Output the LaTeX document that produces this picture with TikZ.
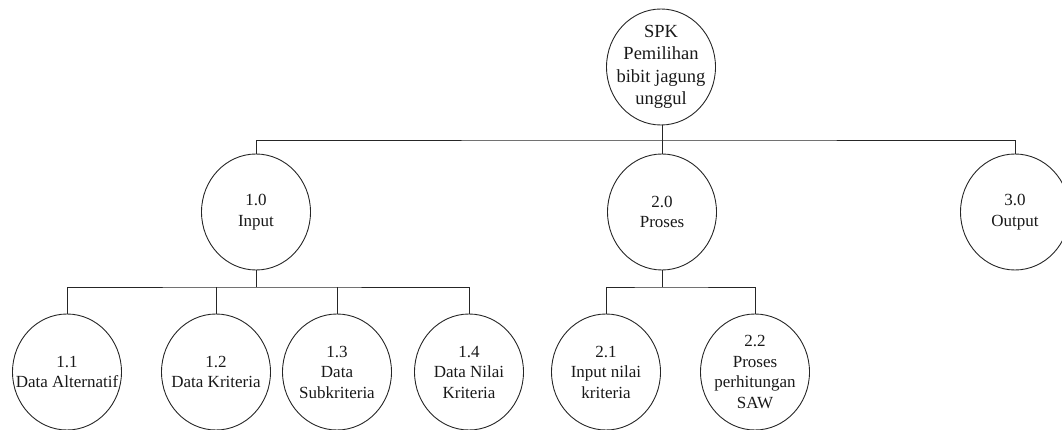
\documentclass[tikz,border=0pt]{standalone}
\usepackage{fontspec}
\setmainfont{Liberation Serif}
\usetikzlibrary{shapes.geometric}
\begin{document}
\begin{tikzpicture}[x=1pt,y=-1pt,
  bubble/.style={ellipse, draw=black!85, line width=0.9pt,
    minimum width=109pt, minimum height=116pt, inner sep=0pt},
  txt/.style={align=center, inner sep=0pt, text=black!90,
    font=\fontsize{17}{20.5}\selectfont},
  bigtxt/.style={txt, font=\fontsize{18.5}{22.5}\selectfont},
  wire/.style={draw=black!85, line width=0.9pt}]
\useasboundingbox (0,0) rectangle (1062,430);
\clip (0,0) rectangle (1062,430);

% root process
\node[bubble] (spk) at (661,67) {};
\node[bigtxt] (spk-t) at (spk.center) {SPK\\Pemilihan\\bibit jagung\\unggul};

% first level
\node[bubble] (in)  at (256,212) {};
\node[txt] (in-t) at (in.center) {1.0\\Input};
\node[bubble] (pr)  at (662,212) {};
\node[txt] (pr-t) at (pr.center) {2.0\\Proses};
\node[bubble] (out) at (1015,212) {};
\node[txt] (out-t) at (out.center) {3.0\\Output};

% second level
\node[bubble] (c11) at (67,372) {};
\node[txt] (c11-t) at (c11.center) {1.1\\Data Alternatif};
\node[bubble] (c12) at (216,372) {};
\node[txt] (c12-t) at (c12.center) {1.2\\Data Kriteria};
\node[bubble] (c13) at (337,372) {};
\node[txt] (c13-t) at (c13.center) {1.3\\Data\\Subkriteria};
\node[bubble] (c14) at (469,372) {};
\node[txt] (c14-t) at (c14.center) {1.4\\Data Nilai\\Kriteria};
\node[bubble] (c21) at (606,372) {};
\node[txt] (c21-t) at (c21.center) {2.1\\Input nilai\\kriteria};
\node[bubble] (c22) at (755,372) {};
\node[txt] (c22-t) at (c22.center) {2.2\\Proses\\perhitungan\\SAW};

% bus junctions
\coordinate (b0) at (662,140);
\coordinate (b1) at (256,287);
\coordinate (b2) at (662,287);

% connectors
\draw[wire] (spk.south -| b0) -- (b0);
\draw[wire] (in.north) |- (b0) -| (out.north);
\draw[wire] (b0) -- (pr.north);

\draw[wire] (in.south) -- (b1);
\draw[wire] (c11.north) |- (b1) -| (c14.north);
\draw[wire] (c12.north) -- (c12.north |- b1);
\draw[wire] (c13.north) -- (c13.north |- b1);

\draw[wire] (pr.south) -- (b2);
\draw[wire] (c21.north) |- (b2) -| (c22.north);
\end{tikzpicture}
\end{document}
